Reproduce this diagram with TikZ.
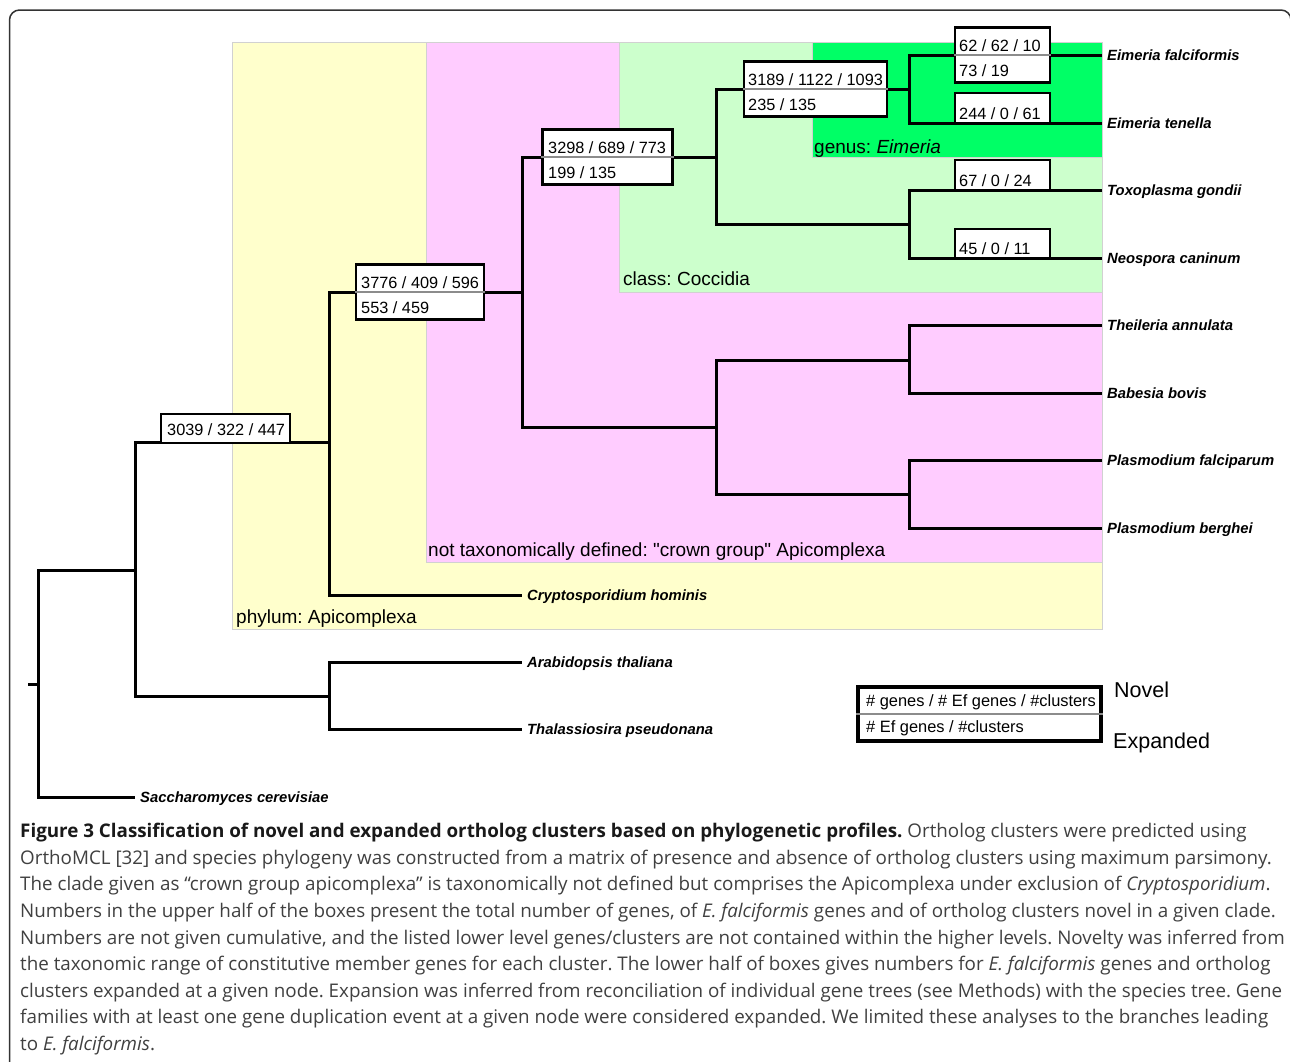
\documentclass[tikz,border=0pt]{standalone}
\usepackage{fontspec}
\setmainfont{Liberation Sans}
\newfontfamily\rawsans{Liberation Sans}[Ligatures=TeXOff]
\newfontfamily\capfont{Open Sans}
\definecolor{apiY}{HTML}{FFFFCC}
\definecolor{crownP}{HTML}{FFCCFF}
\definecolor{coccG}{HTML}{CCFFCC}
\definecolor{eimG}{HTML}{00FF66}
\begin{document}
\frenchspacing
\begin{tikzpicture}[x=1pt,y=-1pt,
  tree/.style={line width=3pt, line join=miter},
  nbox/.style={draw, line width=2.3pt, fill=white, inner sep=0pt},
  divl/.style={draw=black!45, line width=1.2pt},
  num/.style={anchor=base west, inner sep=0pt, font=\fontsize{16.3}{18}\selectfont},
  leaf/.style={anchor=base west, inner sep=0pt, font=\fontsize{14.8}{16}\selectfont\bfseries\itshape},
  reg/.style={anchor=base west, inner sep=0pt, font=\fontsize{19}{22}\selectfont},
  leg/.style={anchor=base west, inner sep=0pt, font=\fontsize{21.5}{24}\selectfont},
  captxt/.style={anchor=base west, inner sep=0pt, font=\capfont\fontsize{18.8}{22}\selectfont, text=black!75},
  region/.style={draw=black!18, line width=0.8pt}
]
\useasboundingbox (0,0) rectangle (1290,1061);
\fill[white] (0,0) rectangle (1290,1061);
% frame
\draw[line width=1.5pt, black!80, rounded corners=10pt] (9.5,1090) -- (9.5,10) -- (1291,10) -- (1291,1090);
% regions
\draw[region, fill=apiY] (232,42) rectangle (1102,629);
\draw[region, fill=crownP] (426,42) rectangle (1102,562);
\draw[region, fill=coccG] (619,42) rectangle (1102,292);
\draw[region, fill=eimG] (812,42) rectangle (1102,157);
\node[reg] (rApi) at (236,623) {phylum: Apicomplexa};
\node[reg, font=\rawsans\fontsize{19}{22}\selectfont] (rCrown) at (428,556) {not taxonomically defined: "crown group" Apicomplexa};
\node[reg] (rCocc) at (623,285) {class: Coccidia};
\node[reg] (rEim) at (814,153) {genus: \textit{Eimeria}};
% tree coordinates
\coordinate (stub) at (28,684);
\coordinate (root) at (38,684);
\coordinate (n1) at (135,570);
\coordinate (sac) at (135,797);
\coordinate (apic) at (329,442);
\coordinate (plant) at (329,696);
\coordinate (arab) at (522,662);
\coordinate (thal) at (522,729);
\coordinate (crown) at (522,292);
\coordinate (crypto) at (522,595);
\coordinate (cocc) at (716,157);
\coordinate (acon) at (716,427);
\coordinate (eim) at (909,89);
\coordinate (sarc) at (909,224);
\coordinate (ef) at (1102,55);
\coordinate (et) at (1102,123);
\coordinate (tg) at (1102,190);
\coordinate (nc) at (1102,258);
\coordinate (piro) at (909,360);
\coordinate (plas) at (909,494);
\coordinate (ta) at (1102,325);
\coordinate (bb) at (1102,393);
\coordinate (pf) at (1102,460);
\coordinate (pb) at (1102,528);
% branches
\draw[tree] (stub) -- (root);
\draw[tree] (root) |- (n1);
\draw[tree] (root) |- (sac);
\draw[tree] (n1) |- (apic);
\draw[tree] (n1) |- (plant);
\draw[tree] (plant) |- (arab);
\draw[tree] (plant) |- (thal);
\draw[tree] (apic) |- (crown);
\draw[tree] (apic) |- (crypto);
\draw[tree] (crown) |- (cocc);
\draw[tree] (crown) |- (acon);
\draw[tree] (cocc) |- (eim);
\draw[tree] (cocc) |- (sarc);
\draw[tree] (eim) |- (ef);
\draw[tree] (eim) |- (et);
\draw[tree] (sarc) |- (tg);
\draw[tree] (sarc) |- (nc);
\draw[tree] (acon) |- (piro);
\draw[tree] (acon) |- (plas);
\draw[tree] (piro) |- (ta);
\draw[tree] (piro) |- (bb);
\draw[tree] (plas) |- (pf);
\draw[tree] (plas) |- (pb);
% leaf labels
\node[leaf] (efL) at (1107,60) {Eimeria falciformis};
\node[leaf] (etL) at (1107,128) {Eimeria tenella};
\node[leaf] (tgL) at (1107,195) {Toxoplasma gondii};
\node[leaf] (ncL) at (1107,263) {Neospora caninum};
\node[leaf] (taL) at (1107,330) {Theileria annulata};
\node[leaf] (bbL) at (1107,398) {Babesia bovis};
\node[leaf] (pfL) at (1107,465) {Plasmodium falciparum};
\node[leaf] (pbL) at (1107,533) {Plasmodium berghei};
\node[leaf] (crL) at (527,600) {Cryptosporidium hominis};
\node[leaf] (arL) at (527,667) {Arabidopsis thaliana};
\node[leaf] (thL) at (527,734) {Thalassiosira pseudonana};
\node[leaf] (saL) at (140,802) {Saccharomyces cerevisiae};
% boxes
\node[nbox, minimum width=129pt, minimum height=29pt] (b0) at (225.5,428.5) {};
\node[num] (b0t) at (167,435) {3039 / 322 / 447};
\node[nbox, minimum width=128pt, minimum height=55pt] (b1) at (420,292) {};
\draw[divl] (b1.west) -- (b1.east);
\node[num] (b1t) at (361,288) {3776 / 409 / 596};
\node[num] (b1b) at (361,313) {553 / 459};
\node[nbox, minimum width=130pt, minimum height=55pt] (b2) at (607.5,157) {};
\draw[divl] (b2.west) -- (b2.east);
\node[num] (b2t) at (548,153) {3298 / 689 / 773};
\node[num] (b2b) at (548,178) {199 / 135};
\node[nbox, minimum width=143pt, minimum height=55pt] (b3) at (815.5,89) {};
\draw[divl] (b3.west) -- (b3.east);
\node[num] (b3t) at (748,85) {3189 / 1122 / 1093};
\node[num] (b3b) at (748,110) {235 / 135};
\node[nbox, minimum width=95pt, minimum height=55pt] (b4) at (1002.5,55) {};
\draw[divl] (b4.west) -- (b4.east);
\node[num] (b4t) at (959,51) {62 / 62 / 10};
\node[num] (b4b) at (959,76) {73 / 19};
\node[nbox, minimum width=95pt, minimum height=30pt] (b5) at (1002.5,108) {};
\node[num] (b5t) at (959,119) {244 / 0 / 61};
\node[nbox, minimum width=95pt, minimum height=30pt] (b6) at (1002.5,175) {};
\node[num] (b6t) at (959,186) {67 / 0 / 24};
\node[nbox, minimum width=95pt, minimum height=29pt] (b7) at (1002.5,243.5) {};
\node[num] (b7t) at (959,254.5) {45 / 0 / 11};
% legend
\node[draw, line width=4pt, inner sep=0pt, minimum width=243pt, minimum height=54pt] (legbox) at (979.5,714) {};
\draw[divl] (legbox.west) -- (legbox.east);
\node[num, font=\fontsize{16.4}{18}\selectfont] (legt) at (866,706) {\# genes / \# Ef genes / \#clusters};
\node[num, font=\fontsize{16.4}{18}\selectfont] (legb) at (866,732) {\# Ef genes / \#clusters};
\node[leg] (novel) at (1114,697) {Novel};
\node[leg] (expd) at (1113,748) {Expanded};
% caption
\node[captxt] (c1) at (20,837) {{\bfseries\color{black!90}Figure 3 Classification of novel and expanded ortholog clusters based on phylogenetic profiles.} Ortholog clusters were predicted using};
\node[captxt] (c2) at (20,864) {OrthoMCL [32] and species phylogeny was constructed from a matrix of presence and absence of ortholog clusters using maximum parsimony.};
\node[captxt] (c3) at (20,890) {The clade given as “crown group apicomplexa” is taxonomically not defined but comprises the Apicomplexa under exclusion of \textit{Cryptosporidium}.};
\node[captxt] (c4) at (20,917) {Numbers in the upper half of the boxes present the total number of genes, of \textit{E. falciformis} genes and of ortholog clusters novel in a given clade.};
\node[captxt] (c5) at (20,944) {Numbers are not given cumulative, and the listed lower level genes/clusters are not contained within the higher levels. Novelty was inferred from};
\node[captxt] (c6) at (20,970) {the taxonomic range of constitutive member genes for each cluster. The lower half of boxes gives numbers for \textit{E. falciformis} genes and ortholog};
\node[captxt] (c7) at (20,997) {clusters expanded at a given node. Expansion was inferred from reconciliation of individual gene trees (see Methods) with the species tree. Gene};
\node[captxt] (c8) at (20,1023) {families with at least one gene duplication event at a given node were considered expanded. We limited these analyses to the branches leading};
\node[captxt] (c9) at (20,1050) {to \textit{E. falciformis}.};
\end{tikzpicture}
\end{document}
